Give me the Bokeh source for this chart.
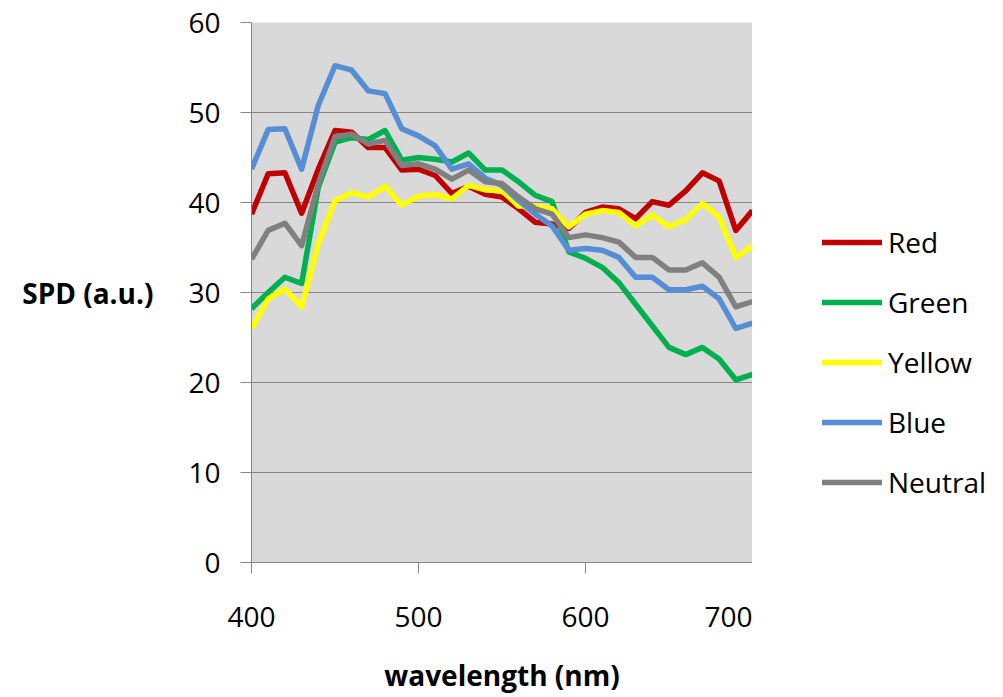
from bokeh.plotting import figure
from bokeh.layouts import row
from bokeh.models import Range1d, FixedTicker, Legend, LegendItem
from bokeh.embed import file_html
from bokeh.resources import INLINE

wavelength = list(range(400, 701, 10))

red = [38.7, 43.2, 43.3, 38.8, 43.7, 48.0, 47.8, 46.1, 46.1, 43.6, 43.7,
       43.0, 41.0, 41.8, 40.9, 40.6, 39.3, 37.8, 37.6, 37.1, 38.9,
       39.5, 39.3, 38.2, 40.1, 39.7, 41.3, 43.3, 42.4, 36.9, 39.1]
green = [28.2, 30.0, 31.7, 31.0, 41.7, 46.7, 47.2, 47.0, 48.0, 44.7, 45.0,
         44.8, 44.5, 45.5, 43.6, 43.6, 42.3, 40.8, 40.1, 34.5, 33.8,
         32.8, 31.1, 28.7, 26.3, 23.9, 23.1, 23.9, 22.6, 20.3, 20.9]
yellow = [26.0, 29.3, 30.4, 28.4, 35.4, 40.2, 41.1, 40.6, 41.8, 39.7, 40.7,
          40.9, 40.4, 41.9, 41.4, 41.3, 39.6, 39.6, 39.3, 37.3, 38.7,
          39.1, 38.9, 37.4, 38.6, 37.3, 38.1, 39.9, 38.4, 33.9, 35.2]
blue = [43.7, 48.1, 48.2, 43.7, 50.8, 55.2, 54.7, 52.4, 52.1, 48.2, 47.4,
        46.3, 43.7, 44.3, 42.7, 41.9, 40.2, 38.7, 37.4, 34.7, 34.9,
        34.7, 33.9, 31.7, 31.7, 30.3, 30.3, 30.7, 29.3, 26.0, 26.6]
neutral = [33.7, 36.9, 37.7, 35.2, 42.1, 47.3, 47.6, 46.5, 46.9, 44.1, 44.3,
           43.7, 42.6, 43.6, 42.3, 42.1, 40.6, 39.3, 38.7, 36.1, 36.4,
           36.1, 35.6, 33.9, 33.9, 32.5, 32.5, 33.3, 31.7, 28.4, 29.0]

series_names = ["Red", "Green", "Yellow", "Blue", "Neutral"]
series_values = [red, green, yellow, blue, neutral]
series_colors = ["#C00000", "#00B050", "#FFFF00", "#558ED5", "#808080"]

x_ticks = [400, 500, 600, 700]
y_ticks = [0, 10, 20, 30, 40, 50, 60]

FONT = "Open Sans"
LW = 5.5

p = figure(width=752, height=697, output_backend="svg", toolbar_location=None,
           x_range=Range1d(400, 700), y_range=Range1d(0, 60),
           min_border_left=251, min_border_right=0,
           min_border_top=22, min_border_bottom=135)
p.background_fill_color = "#D9D9D9"
p.border_fill_color = "white"
p.outline_line_color = None

p.xgrid.grid_line_color = None
p.ygrid.grid_line_color = "#868686"
p.ygrid.grid_line_width = 1
p.ygrid.ticker = FixedTicker(ticks=y_ticks)

for ax, ticks in ((p.xaxis[0], x_ticks), (p.yaxis[0], y_ticks)):
    ax.ticker = FixedTicker(ticks=ticks)
    ax.axis_line_color = "#868686"
    ax.axis_line_width = 1
    ax.major_tick_line_color = "#868686"
    ax.major_tick_in = 0
    ax.major_tick_out = 11
    ax.minor_tick_line_color = None
    ax.major_label_text_font = FONT
    ax.major_label_text_font_size = "28px"
    ax.major_label_text_color = "black"
    ax.axis_label_text_font = FONT
    ax.axis_label_text_font_style = "bold"
    ax.axis_label_text_font_size = "28px"
    ax.axis_label_text_color = "black"

p.xaxis.major_label_standoff = 33
p.yaxis.major_label_standoff = 20
p.xaxis.axis_label = "wavelength (nm)"
p.xaxis.axis_label_standoff = 26
p.yaxis.axis_label = "SPD (a.u.)"
p.yaxis.axis_label_orientation = "horizontal"
p.yaxis.axis_label_standoff = 32

for vals, col in zip(series_values, series_colors):
    p.line(wavelength, vals, line_color=col, line_width=LW, line_join="round")

# legend panel (right of the plot)
q = figure(width=251, height=697, output_backend="svg", toolbar_location=None,
           x_range=Range1d(0, 1), y_range=Range1d(0, 1),
           min_border_left=70, min_border_top=22, min_border_right=0,
           min_border_bottom=135, x_axis_location=None, y_axis_location=None)
q.outline_line_color = None
q.grid.grid_line_color = None
q.background_fill_color = "white"
q.border_fill_color = "white"

items = []
for name, col in zip(series_names, series_colors):
    r = q.line([5, 6], [5, 6], line_color=col, line_width=LW, line_cap="round")
    items.append(LegendItem(label=name, renderers=[r]))

legend = Legend(items=items, location=(0, 61), orientation="vertical",
                background_fill_alpha=0, border_line_color=None,
                padding=0, margin=0, spacing=22,
                glyph_width=60, glyph_height=30, label_height=30,
                label_standoff=6, label_text_font=FONT,
                label_text_font_size="28px", label_text_color="black")
q.add_layout(legend, "center")

layout = row(p, q, spacing=0)
open("out.html", "w").write(file_html(layout, INLINE))
